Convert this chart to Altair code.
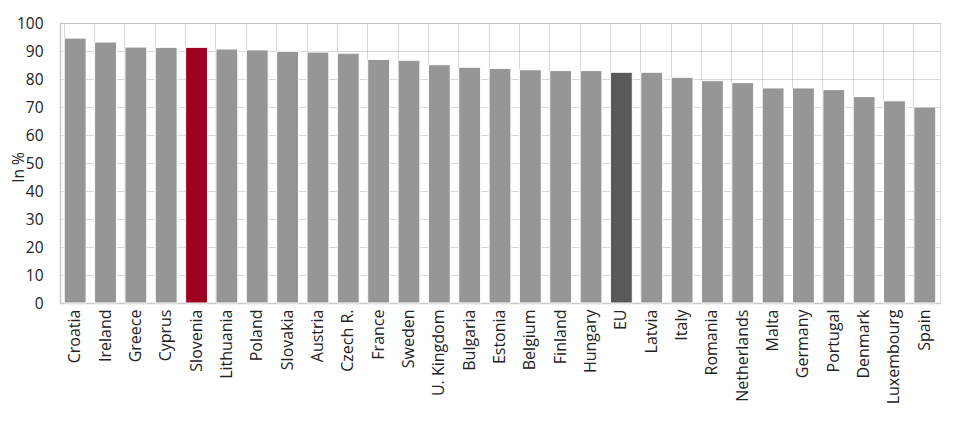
import altair as alt
import pandas as pd

countries = ["Croatia", "Ireland", "Greece", "Cyprus", "Slovenia", "Lithuania", "Poland",
             "Slovakia", "Austria", "Czech R.", "France", "Sweden", "U. Kingdom", "Bulgaria",
             "Estonia", "Belgium", "Finland", "Hungary", "EU", "Latvia", "Italy", "Romania",
             "Netherlands", "Malta", "Germany", "Portugal", "Denmark", "Luxembourg", "Spain"]
values = [94.6, 93.2, 91.4, 91.3, 91.3, 90.7, 90.4, 89.9, 89.6, 89.2, 87.0, 86.7, 85.1, 84.2,
          83.8, 83.3, 83.0, 83.0, 82.4, 82.4, 80.6, 79.4, 78.7, 76.8, 76.8, 76.2, 73.7, 72.2, 70.0]
groups = ["other"] * len(countries)
groups[countries.index("Slovenia")] = "slo"
groups[countries.index("EU")] = "eu"

df = pd.DataFrame({"country": countries, "value": values, "group": groups})

FONT = "Open Sans"

chart = alt.Chart(df).mark_bar(stroke="white", strokeWidth=1).encode(
    x=alt.X("country:N", sort=countries, title=None,
            scale=alt.Scale(paddingInner=0.28, paddingOuter=0.14),
            axis=alt.Axis(labelAngle=-90, labelAlign="right", labelBaseline="middle",
                          labelFontSize=16, labelColor="#222222", labelFont=FONT,
                          labelPadding=6, ticks=False, bandPosition=0,
                          grid=True, gridDash=[1, 1], gridColor="#b0b0b0",
                          domainColor="#c8c8c8", domainWidth=1.5)),
    y=alt.Y("value:Q", title="In %",
            scale=alt.Scale(domain=[0, 100], nice=False),
            axis=alt.Axis(values=list(range(0, 101, 10)), labelFontSize=15.5,
                          labelColor="#222222", labelFont=FONT, ticks=False,
                          labelPadding=17, titleFont=FONT, titleFontSize=15.5,
                          titleFontWeight="normal", titleColor="#222222",
                          titleX=-42, titleY=144, titleAlign="center",
                          titleBaseline="middle", titleAngle=-90,
                          grid=True, gridDash=[1, 1], gridColor="#b0b0b0",
                          domainColor="#c8c8c8", domainWidth=1.5)),
    color=alt.Color("group:N", legend=None,
                    scale=alt.Scale(domain=["other", "slo", "eu"],
                                    range=["#969696", "#9e0020", "#595959"])),
).properties(
    width=880, height=280,
    autosize=alt.AutoSizeParams(type="none"),
    padding={"left": 52, "top": 15, "right": 12, "bottom": 122},
).configure_view(
    stroke="#b0b0b0", strokeDash=[1, 1], strokeWidth=1
)

chart.save("out.html", embed_options={"renderer": "svg", "actions": False})
